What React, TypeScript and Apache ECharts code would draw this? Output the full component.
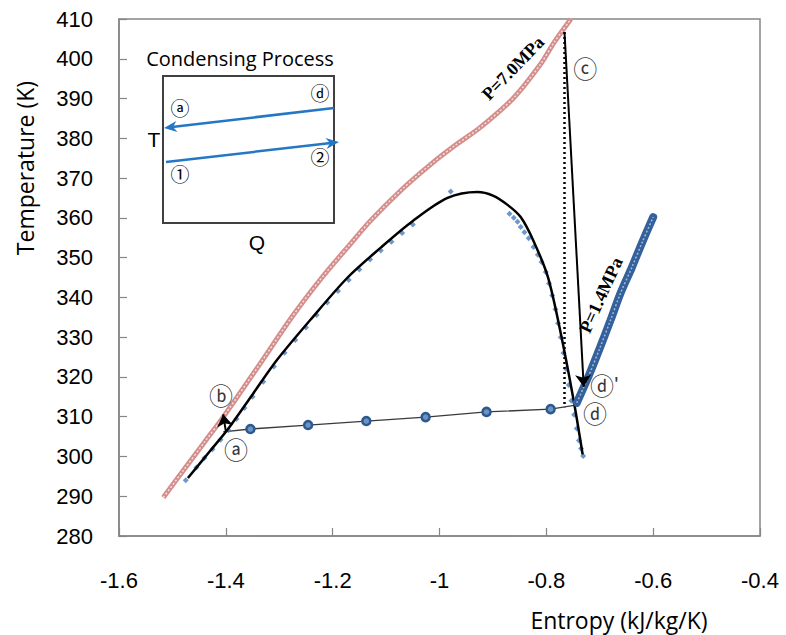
import React, { useEffect, useRef } from "react";
import * as echarts from "echarts";

// ---- axis ----
const xMin = -1.6, xMax = -0.4, xStep = 0.2;
const yMin = 280, yMax = 410, yStep = 10;

// ---- P = 7.0 MPa isobar (red) ----
const redS = [-1.517, -1.48, -1.44, -1.405, -1.336, -1.274, -1.22, -1.167, -1.129, -1.07, -1.017, -0.97, -0.923, -0.861, -0.811, -0.786, -0.754];
const redT = [289.7, 296.4, 303.6, 309.9, 323.3, 335.5, 345.0, 353.4, 359.3, 367.2, 373.4, 378.3, 382.8, 390.2, 398.6, 404.0, 410.0];

// ---- saturation dome fit (black) ----
const domeS = [-1.471, -1.43, -1.397, -1.35, -1.304, -1.242, -1.172, -1.11, -1.05, -0.985, -0.929, -0.9, -0.872, -0.848, -0.824, -0.797, -0.773, -0.749, -0.732];
const domeT = [294.6, 301.3, 306.7, 315.6, 324.3, 334.3, 345.0, 352.5, 359.2, 365.0, 366.5, 365.6, 363.2, 360.2, 354.2, 345.1, 331.0, 314.2, 300.5];

// ---- saturation data points (blue diamonds) ----
const satS = [-1.475, -1.455, -1.44, -1.425, -1.41, -1.395, -1.38, -1.365, -1.35, -1.33, -1.31, -1.29, -1.27, -1.25, -1.23, -1.21, -1.19, -1.17, -1.15, -1.13, -1.11, -1.09, -1.07, -1.05,
  -0.979,
  -0.869, -0.861, -0.854, -0.848, -0.841, -0.833, -0.824, -0.816, -0.809, -0.801, -0.795, -0.789, -0.783, -0.778, -0.773, -0.768, -0.763, -0.758, -0.753, -0.748, -0.743, -0.739, -0.735, -0.731];
const satT = [294.0, 297.2, 299.6, 301.8, 304.2, 306.6, 309.4, 312.2, 315.0, 318.8, 322.6, 326.1, 329.3, 332.4, 335.6, 338.7, 341.6, 344.4, 347.0, 349.5, 351.8, 354.0, 356.2, 358.3,
  366.6,
  361.0, 360.0, 359.0, 357.7, 356.4, 354.9, 352.7, 350.7, 348.9, 346.4, 343.5, 340.5, 337.0, 333.5, 330.0, 326.0, 322.0, 318.0, 314.0, 310.5, 307.0, 304.0, 302.0, 300.1];

// ---- condensing line (a -> d) ----
const condS = [-1.405, -1.354, -1.246, -1.137, -1.026, -0.912, -0.792, -0.745];
const condT = [306.2, 306.9, 307.9, 308.9, 309.9, 311.2, 311.9, 312.9];

// ---- P = 1.4 MPa isobar (dark blue) ----
const p14S = [-0.743, -0.72, -0.70, -0.68, -0.661, -0.64, -0.62, -0.60];
const p14T = [313.5, 320.5, 327.2, 334.2, 341.1, 347.5, 354.0, 360.2];

// ---- arrows ----
const arrowCD = [[-0.766, 406.7], [-0.730, 317.5]];
const arrowAB = [[-1.400, 306.3], [-1.405, 310.6]];
const dottedCD = [[-0.766, 406.7], [-0.766, 312.4]];

// ---- point labels ----
const annoText = ["ⓐ", "ⓑ", "ⓒ", "ⓓ", "ⓓ"];
const annoS = [-1.381, -1.409, -0.727, -0.696, -0.709];
const annoT = [302.1, 315.5, 397.8, 318.1, 311.1];
const primeS = -0.669, primeT = 318.0;

const zip = (a: number[], b: number[]) => a.map((v, i) => [v, b[i]]);

const axisGray = "#868686";
const sans = "'Liberation Sans', Arial, sans-serif";
const titleFont = "'Open Sans', 'Noto Sans', sans-serif";
const cjk = "'Noto Sans CJK JP', 'DejaVu Sans', sans-serif";
const serifB = "'Liberation Serif', 'Times New Roman', serif";
const blue = "#2477c4";

function arrowHead(tip: number[], from: number[], len: number, half: number) {
  const dx = tip[0] - from[0], dy = tip[1] - from[1];
  const L = Math.hypot(dx, dy);
  const ux = dx / L, uy = dy / L;
  const nx = -uy, ny = ux;
  const bx = tip[0] - len * ux, by = tip[1] - len * uy;
  const cx = tip[0] - len * 0.7 * ux, cy = tip[1] - len * 0.7 * uy;
  return [tip, [bx + half * nx, by + half * ny], [cx, cy], [bx - half * nx, by - half * ny]];
}

export default function App() {
  const ref = useRef<HTMLDivElement>(null);
  useEffect(() => {
    if (!ref.current) return;
    const chart = echarts.init(ref.current, undefined, { renderer: "svg" });

    const a1s = [334, 108], a1e = [164, 128];
    const a2s = [166, 162], a2e = [339, 142];
    const ctext = (x: number, y: number, text: string, size: number) => ({
      type: "text", x, y, style: { text, fontSize: size, lineHeight: 15, fontFamily: cjk, fill: "#000", align: "center", verticalAlign: "middle" },
    });

    const option: any = {
      animation: false,
      grid: { left: 119, right: 26, top: 19, bottom: 99, show: true, borderColor: axisGray, borderWidth: 1.5, backgroundColor: "transparent" },
      xAxis: {
        type: "value", min: xMin, max: xMax, interval: xStep,
        axisLine: { show: true, onZero: false, lineStyle: { color: axisGray, width: 1.5 } },
        axisTick: { show: true, inside: true, length: 8, lineStyle: { color: axisGray, width: 1.2 } },
        splitLine: { show: false },
        axisLabel: { fontSize: 22, color: "#000", fontFamily: sans, margin: 33, formatter: (v: number) => String(parseFloat(v.toFixed(2))) },
      },
      yAxis: {
        type: "value", min: yMin, max: yMax, interval: yStep,
        axisLine: { show: true, lineStyle: { color: axisGray, width: 1.5 } },
        axisTick: { show: true, inside: true, length: 8, lineStyle: { color: axisGray, width: 1.2 } },
        splitLine: { show: false },
        axisLabel: { fontSize: 22, color: "#000", fontFamily: sans, margin: 26 },
      },
      series: [
        {
          type: "line", name: "P=7.0MPa", data: zip(redS, redT), smooth: 0.3, symbol: "none",
          lineStyle: { color: "#d48f8c", width: 5 }, z: 2,
        },
        {
          type: "line", data: zip(redS, redT), smooth: 0.3, symbol: "none",
          lineStyle: { color: "#f6dede", width: 1.5, type: [2, 2] }, z: 3,
        },
        {
          type: "line", name: "condensing", data: zip(condS, condT).map((p, i) => ({ value: p, symbol: i === 0 || i === condS.length - 1 ? "none" : "circle" })),
          symbolSize: 8, lineStyle: { color: "#3a3a3a", width: 1.3 },
          itemStyle: { color: "#6d92c4", borderColor: "#2d5a8e", borderWidth: 2.5 }, z: 4,
        },
        {
          type: "scatter", name: "saturation", data: zip(satS, satT), symbol: "diamond", symbolSize: 6,
          itemStyle: { color: "#4a7ebb" }, z: 5,
        },
        {
          type: "line", name: "dome", data: zip(domeS, domeT), smooth: 0.3, symbol: "none",
          lineStyle: { color: "#000", width: 2.5 }, z: 6,
        },
        {
          type: "line", name: "P=1.4MPa", data: zip(p14S, p14T), smooth: 0.3, symbol: "none",
          lineStyle: { color: "#34609b", width: 8, cap: "round" }, z: 7,
        },
        {
          type: "line", data: zip(p14S, p14T), smooth: 0.3, symbol: "none",
          lineStyle: { color: "#a3bbd9", width: 1.5, type: [2, 2] }, z: 8,
        },
        {
          type: "lines", coordinateSystem: "cartesian2d", z: 9,
          symbol: ["none", "arrow"], symbolSize: 12,
          lineStyle: { color: "#000", width: 2, opacity: 1 },
          data: [{ coords: arrowCD }, { coords: arrowAB }],
        },
        {
          type: "lines", coordinateSystem: "cartesian2d", z: 9,
          symbol: ["none", "none"],
          lineStyle: { color: "#000", width: 2.5, type: [2, 3], opacity: 1 },
          data: [{ coords: dottedCD }],
        },
        {
          type: "scatter", z: 10, symbolSize: 1, itemStyle: { color: "rgba(0,0,0,0)" },
          data: annoS.map((s, i) => ({ value: [s, annoT[i]], name: annoText[i] })),
          label: { show: true, position: "inside", formatter: (p: any) => p.name, fontSize: 24, lineHeight: 20, fontFamily: cjk, color: "#000" },
          silent: true,
        },
        {
          type: "scatter", z: 10, symbolSize: 1, itemStyle: { color: "rgba(0,0,0,0)" },
          data: [{ value: [primeS, primeT], name: "prime" }],
          label: { show: true, position: "inside", formatter: "'", fontSize: 22, lineHeight: 14, fontFamily: sans, color: "#000" },
          silent: true,
        },
      ],
      graphic: [
        // axis titles
        { type: "text", x: 25, y: 168, rotation: Math.PI / 2, style: { text: "Temperature (K)", fontSize: 23, fontFamily: titleFont, fill: "#000", align: "center", verticalAlign: "middle" } },
        { type: "text", x: 619, y: 620, style: { text: "Entropy (kJ/kg/K)", fontSize: 23, fontFamily: titleFont, fill: "#000", align: "center", verticalAlign: "middle" } },
        // rotated isobar labels
        { type: "text", x: 513, y: 68, rotation: (46 * Math.PI) / 180, style: { text: "P=7.0MPa", fontSize: 18, fontWeight: "bold", fontFamily: serifB, fill: "#000", align: "center", verticalAlign: "middle" } },
        { type: "text", x: 601, y: 295, rotation: (65.5 * Math.PI) / 180, style: { text: "P=1.4MPa", fontSize: 18, fontWeight: "bold", fontFamily: serifB, fill: "#000", align: "center", verticalAlign: "middle" } },
        // inset
        { type: "text", x: 240, y: 58, style: { text: "Condensing Process", fontSize: 20, fontFamily: titleFont, fill: "#000", align: "center", verticalAlign: "middle" } },
        { type: "rect", shape: { x: 163, y: 76, width: 171, height: 147 }, style: { fill: "#fff", stroke: "#404040", lineWidth: 2 } },
        { type: "line", shape: { x1: a1s[0], y1: a1s[1], x2: a1e[0] + 8, y2: a1e[1] - 1 }, style: { stroke: blue, lineWidth: 2.5 } },
        { type: "polygon", shape: { points: arrowHead(a1e, a1s, 13, 5.5) }, style: { fill: blue } },
        { type: "line", shape: { x1: a2s[0], y1: a2s[1], x2: a2e[0] - 8, y2: a2e[1] + 1 }, style: { stroke: blue, lineWidth: 2.5 } },
        { type: "polygon", shape: { points: arrowHead(a2e, a2s, 13, 5.5) }, style: { fill: blue } },
        ctext(180, 107, "ⓐ", 19),
        ctext(320, 92, "ⓓ", 19),
        ctext(180, 173, "①", 19),
        ctext(320, 156, "②", 19),
        { type: "text", x: 154, y: 139, style: { text: "T", fontSize: 21, fontFamily: sans, fill: "#000", align: "center", verticalAlign: "middle" } },
        { type: "text", x: 257, y: 242, style: { text: "Q", fontSize: 21, fontFamily: sans, fill: "#000", align: "center", verticalAlign: "middle" } },
      ],
    };
    chart.setOption(option);
    return () => chart.dispose();
  }, []);
  return <div ref={ref} style={{ width: 786, height: 635, position: "absolute", left: 0, top: 0 }} />;
}
